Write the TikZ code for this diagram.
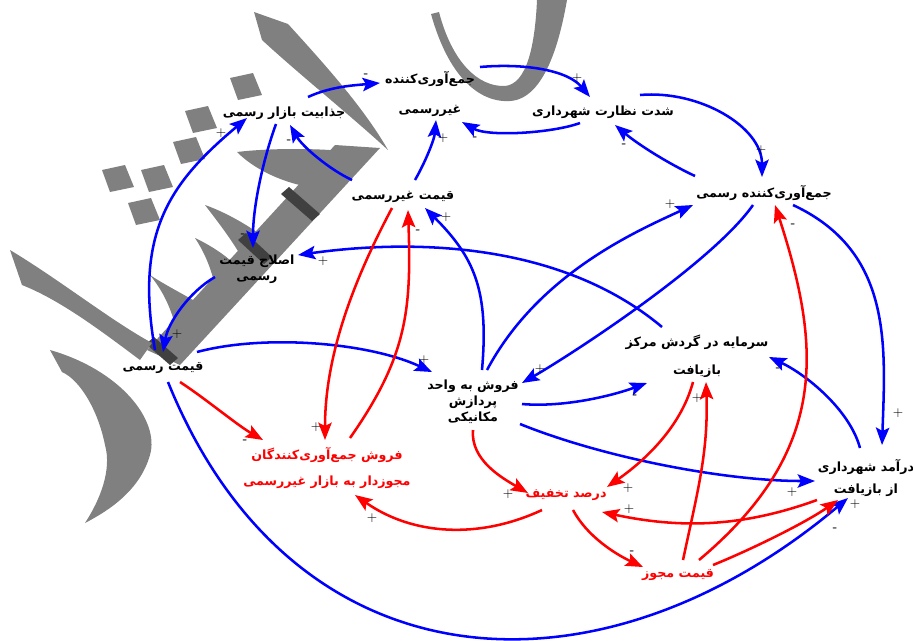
\documentclass[tikz,border=0pt]{standalone}
\usepackage{fontspec}
\newfontfamily\farsi[Script=Arabic]{DejaVu Sans}
\TeXXeTstate=1
\usetikzlibrary{arrows.meta,calc}

\newcommand{\fa}[1]{\beginR #1\endR}
\newcommand{\mns}{\textbf{-}}

\begin{document}
\begin{tikzpicture}[x=0.75pt, y=0.75pt,
  var/.style={font=\farsi\bfseries\fontsize{9.5}{11}\selectfont, align=center, inner sep=1pt},
  redvar/.style={var, text=red},
  link/.style={line width=1.9pt, -{Stealth[length=13pt,width=10pt,inset=2.5pt]}},
  bl/.style={link, draw=blue},
  rd/.style={link, draw=red},
  sgn/.style={font=\sffamily\fontsize{10}{10}\selectfont, inner sep=0pt},
  wm/.style={fill=black!50},
  wmdark/.style={fill=black!75}]

\useasboundingbox (0,0) rectangle (913,-640);

% ---------- watermark ----------
\begin{scope}[yscale=-1]
  % bowl at the top
  \fill[wm] (431,14) .. controls (448,75) and (478,103) .. (510,101) .. controls (545,99) and (560,40) .. (567,0)
    -- (537,0) .. controls (535,45) and (527,84) .. (505,86) .. controls (478,87) and (452,62) .. (439,12) -- cycle;
  % long stroke
  \fill[wm] (254,12) -- (288,24) .. controls (330,70) and (365,110) .. (388,150) .. controls (350,115) and (300,75) .. (262,40) -- cycle;
  % base band and teeth
  \fill[wm] (335,145) -- (380,148) -- (180,365) -- (147,350) -- cycle;
  \fill[wm] (237,152) .. controls (270,148) and (320,148) .. (352,152) -- (340,190) .. controls (300,190) and (260,175) .. (237,152) -- cycle;
  \fill[wm] (205,205) .. controls (225,212) and (248,225) .. (265,238) -- (242,258) .. controls (232,240) and (218,222) .. (205,205) -- cycle;
  \fill[wm] (195,238) .. controls (210,245) and (225,255) .. (232,262) -- (214,282) .. controls (210,265) and (203,250) .. (195,238) -- cycle;
  \fill[wm] (150,275) .. controls (165,285) and (185,295) .. (198,303) -- (176,328) .. controls (170,305) and (162,290) .. (150,275) -- cycle;
  \fill[wmdark] (281,194) -- (289,187) -- (320,214) -- (312,221) -- cycle;
  \fill[wmdark] (238,240) -- (246,233) -- (272,257) -- (264,264) -- cycle;
  \fill[wmdark] (146,344) -- (154,337) -- (178,358) -- (170,365) -- cycle;
  % dots
  \foreach \cx/\cy in {246/87, 201/120, 189/151, 118/179, 157/179, 144/212}
    \fill[wm] (\cx-16,\cy-9) -- (\cx+7,\cy-14) -- (\cx+16,\cy+8) -- (\cx-8,\cy+13) -- cycle;
  % tail and lower curve
  \fill[wm] (10,250) .. controls (60,280) and (110,320) .. (152,343) -- (140,360) .. controls (100,330) and (60,300) .. (22,285) -- cycle;
  \fill[wm] (50,350) .. controls (120,370) and (160,420) .. (150,455) .. controls (140,490) and (110,510) .. (85,523)
    .. controls (100,500) and (112,470) .. (105,445) .. controls (98,410) and (80,380) .. (62,372) -- cycle;
\end{scope}

% ---------- variables ----------
\node[var] (n1) at (430,-94) {\fa{جمع‌آوری‌کننده}\\[12pt]\fa{غیررسمی}};
\node[var] (n2) at (603,-112) {\fa{شدت نظارت شهرداری}};
\node[var] (n3) at (284,-113) {\fa{جذابیت بازار رسمی}};
\node[var] (n4) at (764,-193) {\fa{جمع‌آوری‌کننده رسمی}};
\node[var] (n5) at (403,-197) {\fa{قیمت غیررسمی}};
\node[var] (n6) at (257,-269) {\fa{اصلاح قیمت}\\[1pt]\fa{رسمی}};
\node[var] (n7) at (163,-368) {\fa{قیمت رسمی}};
\node[var] (n8) at (697,-356) {\fa{سرمایه در گردش مرکز}\\[10pt]\fa{بازیافت}};
\node[var] (n9) at (473,-402) {\fa{فروش به واحد}\\[1pt]\fa{پردازش}\\[1pt]\fa{مکانیکی}};
\node[redvar] (n10) at (327,-468) {\fa{فروش جمع‌آوری‌کنندگان}\\[9pt]\fa{مجوزدار به بازار غیررسمی}};
\node[redvar] (n11) at (566,-495) {\fa{درصد تخفیف}};
\node[redvar] (n12) at (678,-575) {\fa{قیمت مجوز}};
\node[var] (n13) at (866,-478) {\fa{درآمد شهرداری}\\[5pt]\fa{از بازیافت}};

% ---------- blue links ----------
\draw[bl] ($(n3)+(24,16)$) .. controls +(25:25) and +(185:25) .. ($(n1)+(-50,11)$);
\draw[bl] ($(n1)+(50,27)$) .. controls +(5:45) and +(130:35) .. ($(n2)+(-13,15)$);
\draw[bl] ($(n2)+(-23,-11)$) .. controls +(200:30) and +(-30:30) .. ($(n1)+(32,-28)$);
\draw[bl] ($(n2)+(37,17)$) .. controls +(5:60) and +(90:50) .. ($(n4)+(-2,16)$);
\draw[bl] ($(n4)+(-69,17)$) .. controls +(155:30) and +(-40:30) .. ($(n2)+(12,-13)$);
\draw[bl] ($(n5)+(12,17)$) .. controls +(60:20) and +(-95:20) .. ($(n1)+(6,-26)$);
\draw[bl] ($(n5)+(-51,17)$) .. controls +(155:25) and +(-60:25) .. ($(n3)+(6,-12)$);
\draw[bl] ($(n3)+(-8,-11)$) .. controls +(-110:40) and +(90:40) .. ($(n6)+(-4,21)$);
\draw[bl] ($(n7)+(-8,18)$) .. controls +(100:120) and +(220:100) .. ($(n3)+(-37,-5)$);
\draw[bl] ($(n6)+(-42,-8)$) .. controls +(210:30) and +(80:30) .. ($(n7)+(0,16)$);
\draw[bl] ($(n7)+(34,16)$) .. controls +(15:70) and +(155:70) .. ($(n9)+(-41,30)$);
\draw[bl] ($(n8)+(-35,29)$) .. controls +(140:130) and +(8:120) .. ($(n6)+(41,14)$);
\draw[bl] ($(n9)+(9,32)$) .. controls +(85:80) and +(-45:70) .. ($(n5)+(22,-11)$);
\draw[bl] ($(n9)+(14,32)$) .. controls +(62:110) and +(205:60) .. ($(n4)+(-71,-12)$);
\draw[bl] ($(n4)+(-11,-12)$) .. controls +(235:70) and +(30:60) .. ($(n9)+(49,19)$);
\draw[bl] ($(n9)+(49,-2)$) .. controls +(-5:40) and +(200:40) .. ($(n8)+(-50,-27)$);
\draw[bl] ($(n9)+(47,-22)$) .. controls +(-22:90) and +(180:90) .. ($(n13)+(-51,-3)$);
\draw[bl] ($(n4)+(29,-12)$) .. controls +(-25:110) and +(88:100) .. ($(n13)+(16,33)$);
\draw[bl] ($(n13)+(-6,30)$) .. controls +(105:40) and +(-25:40) .. ($(n8)+(72,-1)$);
\draw[bl] ($(n7)+(5,-14)$) .. controls +(-68:330) and +(220:330) .. ($(n13)+(-18,-20)$);

% ---------- red links ----------
\draw[rd] ($(n7)+(17,-14)$) .. controls +(-33:30) and +(150:30) .. ($(n10)+(-64,28)$);
\draw[rd] ($(n5)+(-11,-11)$) .. controls +(-118:90) and +(90:80) .. ($(n10)+(-2,28)$);
\draw[rd] ($(n10)+(23,30)$) .. controls +(55:100) and +(-88:100) .. ($(n5)+(5,-13)$);
\draw[rd] ($(n11)+(-24,-15)$) .. controls +(205:70) and +(-35:70) .. ($(n10)+(28,-27)$);
\draw[rd] ($(n9)+(0,-28)$) .. controls +(-95:30) and +(150:30) .. ($(n11)+(-38,2)$);
\draw[rd] ($(n8)+(-4,-26)$) .. controls +(-105:50) and +(35:40) .. ($(n11)+(41,8)$);
\draw[rd] ($(n13)+(-49,-22)$) .. controls +(200:80) and +(-12:80) .. ($(n11)+(36,-17)$);
\draw[rd] ($(n11)+(7,-15)$) .. controls +(-62:30) and +(155:30) .. ($(n12)+(-35,8)$);
\draw[rd] ($(n12)+(5,15)$) .. controls +(78:70) and +(-88:70) .. ($(n8)+(9,-26)$);
\draw[rd] ($(n12)+(21,15)$) .. controls +(40:170) and +(-72:150) .. ($(n4)+(11,-12)$);
\draw[rd] ($(n12)+(35,10)$) .. controls +(22:40) and +(215:40) .. ($(n13)+(-28,-22)$);

% ---------- polarity signs ----------
\foreach \i/\x/\y/\sg in {a/366/76/\mns, b/577/78/+, c/475/139/\mns, d/761/150/+, e/624/146/\mns,
    f/443/138/+, h/289/142/\mns, i/243/236/\mns, j/221/133/+, k/177/334/+, l/424/360/+,
    m/323/261/+, n/446/217/+, o/670/204/+, p/540/369/+, q/635/397/\mns, r/792/492/+,
    s/898/413/+, t/778/370/\mns, u/835/530/\mns, v/245/442/\mns, w/316/427/+, x/418/232/\mns,
    y/372/518/+, z/508/494/+, aa/628/488/+, bb/629/509/+, cc/632/553/\mns, dd/697/398/+,
    ee/793/226/\mns, ff/855/504/+}
  \node[sgn] (s\i) at (\x,-\y) {\sg};

\end{tikzpicture}
\end{document}
